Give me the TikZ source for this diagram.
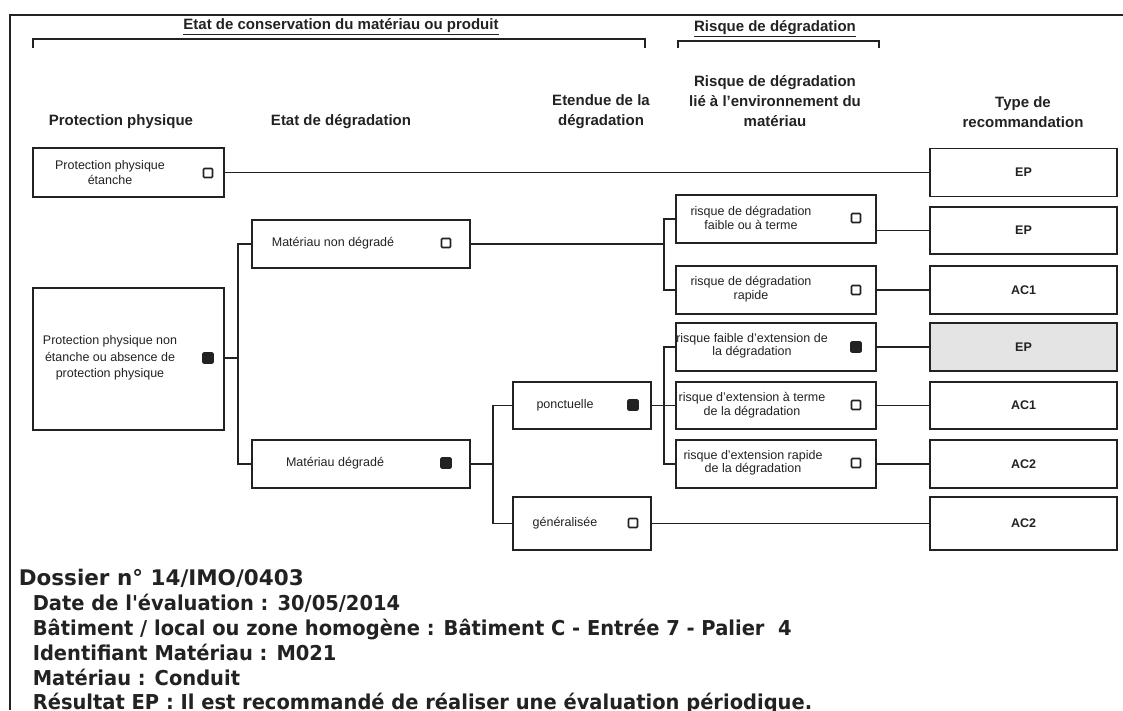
\documentclass[tikz,border=0pt]{standalone}
\usepackage{fontspec}
\setmainfont{Liberation Sans}
\newfontfamily\dossierfont{DejaVu Sans}
\newfontfamily\infofont[FakeStretch=0.95]{DejaVu Sans}
\usetikzlibrary{positioning}
\definecolor{ink}{HTML}{222222}
\definecolor{shade}{HTML}{E4E4E4}

\begin{document}
\begin{tikzpicture}[
    x=1pt, y=-1pt,
    color=ink,
    line width=1.6pt,
    box/.style={
        draw,
        line width=1.8pt,
        inner sep=0pt
    },
    head/.style={font=\fontsize{15}{20}\selectfont\bfseries, align=center, inner sep=0pt},
    txt/.style={font=\fontsize{12.5}{16.5}\selectfont, align=center, inner sep=0pt},
    rtxt/.style={font=\fontsize{12.5}{13.5}\selectfont, align=center, inner sep=0pt},
    rec/.style={font=\fontsize{12.5}{15}\selectfont\bfseries, inner sep=0pt},
    cb/.style={draw, line width=1.6pt, rounded corners=1pt, minimum size=9pt, inner sep=0pt},
    cbx/.style={cb, fill, minimum size=10pt},
    info/.style={anchor=base west, inner sep=0pt, font=\infofont\fontsize{20.5}{24}\selectfont\bfseries}
]
\useasboundingbox (0,0) rectangle (1123,710);

% Frame
\draw[line width=2pt] (10,710) -- (10,14.5) -- (1123,14.5);

% Group brackets
\draw[line width=2pt] (33,48) -- (33,38.5) -- (645,38.5) -- (645,48);
\node[head] (tconserv) at (341,27) {\underline{Etat de conservation du matériau ou produit}};
\draw[line width=2pt] (678,48) -- (678,41) -- (879,41) -- (879,48);
\node[head] (trisque) at (775,29) {\underline{Risque de dégradation}};

% Column headings
\node[head] (hprot) at (121,122) {Protection physique};
\node[head] (hetat) at (341,122) {Etat de dégradation};
\node[head] (hetend) at (601,112) {Etendue de la\\dégradation};
\node[head] (henv) at (775,101) {Risque de dégradation\\lié à l'environnement du\\matériau};
\node[head] (htype) at (1023,112) {Type de\\recommandation};

% Protection physique
\node[box, minimum width=191pt, minimum height=49pt] (ppe) at (128.5,172.5) {};
\node[txt, font=\fontsize{12.5}{14.5}\selectfont] (ppetxt) at (110,172.5) {Protection physique\\étanche};
\node[cb] (ppecb) at (208,173) {};
\node[box, minimum width=191pt, minimum height=142pt] (ppne) at (128.5,359) {};
\node[txt] (ppnetxt) at (110,358) {Protection physique non\\étanche ou absence de\\protection physique};
\node[cbx] (ppnecb) at (208,358) {};

% Etat de degradation
\node[box, minimum width=218pt, minimum height=48pt] (mnd) at (361,244) {};
\node[txt] (mndtxt) at (333,243) {Matériau non dégradé};
\node[cb] (mndcb) at (446,243) {};
\node[box, minimum width=218pt, minimum height=48pt] (md) at (361,464) {};
\node[txt] (mdtxt) at (335,463) {Matériau dégradé};
\node[cbx] (mdcb) at (446,463) {};

% Etendue
\node[box, minimum width=138pt, minimum height=47pt] (pon) at (582,405.5) {};
\node[txt] (pontxt) at (565,405) {ponctuelle};
\node[cbx] (poncb) at (633,405) {};
\node[box, minimum width=138pt, minimum height=53pt] (gen) at (582,523.5) {};
\node[txt] (gentxt) at (565,523) {généralisée};
\node[cb] (gencb) at (633,523) {};

% Risque lie a l'environnement
\node[box, minimum width=200pt, minimum height=48pt] (r1) at (776,219) {};
\node[rtxt] (r1txt) at (751,218) {risque de dégradation\\faible ou à terme};
\node[cb] (r1cb) at (856,218) {};
\node[box, minimum width=200pt, minimum height=48pt] (r2) at (776,290) {};
\node[rtxt] (r2txt) at (751,289) {risque de dégradation\\rapide};
\node[cb] (r2cb) at (856,290) {};
\node[box, minimum width=200pt, minimum height=48pt] (r3) at (776,347) {};
\node[rtxt] (r3txt) at (752,346) {risque faible d'extension de\\la dégradation};
\node[cbx] (r3cb) at (856,347) {};
\node[box, minimum width=200pt, minimum height=47pt] (r4) at (776,405.5) {};
\node[rtxt] (r4txt) at (752,405) {risque d'extension à terme\\de la dégradation};
\node[cb] (r4cb) at (856,405) {};
\node[box, minimum width=200pt, minimum height=48pt] (r5) at (776,464) {};
\node[rtxt] (r5txt) at (753,463) {risque d'extension rapide\\de la dégradation};
\node[cb] (r5cb) at (856,463) {};

% Type de recommandation
\node[box, minimum width=187pt, minimum height=48pt] (t1) at (1023.5,172.5) {};
\node[rec] (t1txt) at (t1) {EP};
\node[box, minimum width=187pt, minimum height=47pt] (t2) at (1023.5,230.5) {};
\node[rec] (t2txt) at (t2) {EP};
\node[box, minimum width=187pt, minimum height=48pt] (t3) at (1023.5,290) {};
\node[rec] (t3txt) at (t3) {AC1};
\node[box, minimum width=187pt, minimum height=48pt, fill=shade] (t4) at (1023.5,347) {};
\node[rec] (t4txt) at (t4) {EP};
\node[box, minimum width=187pt, minimum height=47pt] (t5) at (1023.5,405.5) {};
\node[rec] (t5txt) at (t5) {AC1};
\node[box, minimum width=187pt, minimum height=48pt] (t6) at (1023.5,464) {};
\node[rec] (t6txt) at (t6) {AC2};
\node[box, minimum width=187pt, minimum height=53pt] (t7) at (1023.5,523.5) {};
\node[rec] (t7txt) at (t7) {AC2};

% Connectors
\coordinate (s1) at (238,358);
\coordinate (s2) at (493,464);
\coordinate (s3) at (664,244);
\coordinate (s4) at (664,405.5);
\draw (ppe.east) -- (t1.west);
\draw (s1 -| ppne.east) -- (s1);
\draw (mnd.west) -| (s1) |- (md.west);
\draw (md.east) -- (s2);
\draw (pon.west) -| (s2) |- (gen.west);
\draw (mnd.east) -- (s3);
\draw (r1.west) -| (s3) |- (r2.west);
\draw (pon.east) -- (s4) -- (r4.west);
\draw (r3.west) -| (s4) |- (r5.west);
\draw (t2.west -| r1.east) -- (t2.west);
\draw (r2.east) -- (t3.west);
\draw (r3.east) -- (t4.west);
\draw (r4.east) -- (t5.west);
\draw (r5.east) -- (t6.west);
\draw (gen.east) -- (t7.west);

% Dossier
\node[anchor=base west, inner sep=0pt, font=\dossierfont\fontsize{21.5}{24}\selectfont\bfseries] (dossier) at (18,585) {Dossier n° 14/IMO/0403};
\node[info] (idate) at (32,610) {Date de l'évaluation : 30/05/2014};
\node[info] (ibat) at (32,635) {Bâtiment / local ou zone homogène : Bâtiment C - Entrée 7 - Palier\ \ 4};
\node[info] (iid) at (32,660) {Identifiant Matériau : M021};
\node[info] (imat) at (32,685) {Matériau : Conduit};
\node[info] (ires) at (32,709) {Résultat EP : Il est recommandé de réaliser une évaluation périodique.};

\end{tikzpicture}
\end{document}
